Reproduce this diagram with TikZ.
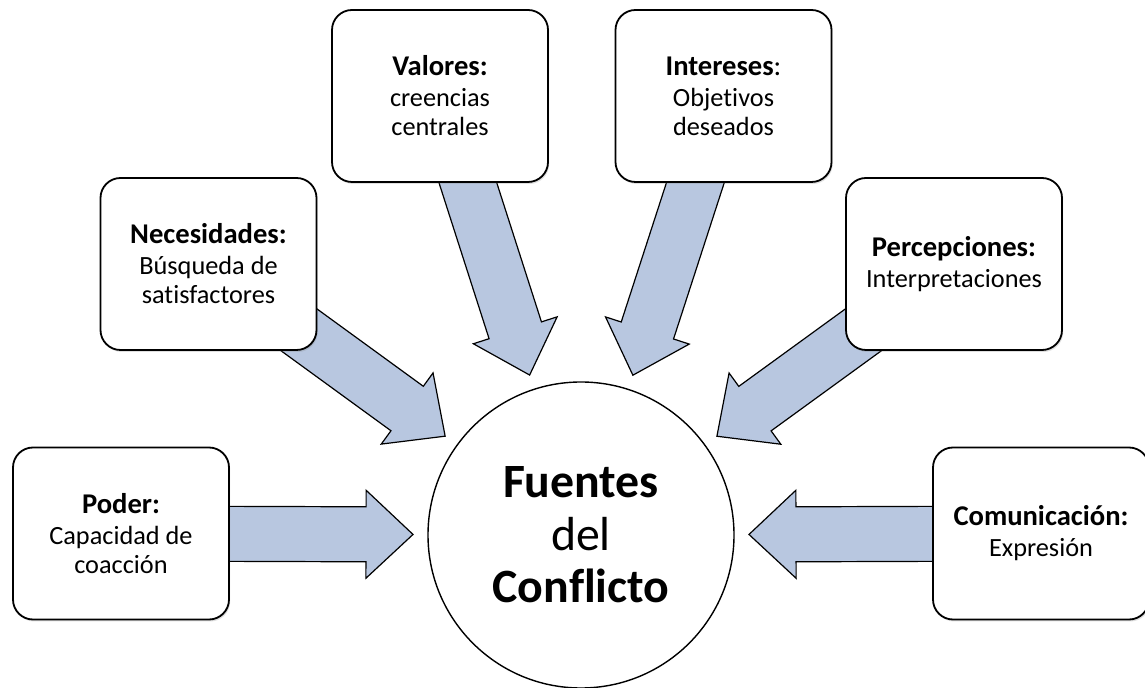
\documentclass[tikz,border=0pt]{standalone}
\usepackage{fontspec}
\setmainfont{Carlito}[Ligatures=NoCommon]
\usetikzlibrary{calc,backgrounds,shadows}
\definecolor{azulflecha}{RGB}{184,199,224}
\tikzset{
	caja/.style={draw=black, line width=0.9pt, fill=white, rounded corners=10pt,
		minimum width=108pt, minimum height=86pt, align=center,
		font=\fontsize{13.15}{14.5}\selectfont,
		drop shadow={opacity=0.25, shadow xshift=0.6pt, shadow yshift=-1pt}},
	centro/.style={draw=black, line width=0.7pt, fill=white, circle, minimum size=153pt,
		align=center, font=\fontsize{23.9}{26.25}\selectfont},
	flechagorda/.style={fill=azulflecha, draw=black, line width=0.6pt, line join=miter}
}
% Titelzeile einer Box
\newcommand{\titulo}[1]{{\fontsize{14.3}{15.5}\selectfont #1}}
% dicke Pfeil von einer Box zum Kreis
\newcommand{\flecha}[1]{%
	\coordinate (punta) at ($(fuentes.center)!84pt!(#1.center)$);
	\coordinate (base) at ($(punta)!23.5pt!(#1.center)$);
	\filldraw[flechagorda] ($(#1.center)!13.75pt!90:(punta)$) -- ($(base)!13.75pt!90:(punta)$)
		-- ($(base)!22pt!90:(punta)$) -- (punta) -- ($(base)!22pt!-90:(punta)$)
		-- ($(base)!13.75pt!-90:(punta)$) -- ($(#1.center)!13.75pt!-90:(punta)$) -- cycle;
}
\begin{document}
\begin{tikzpicture}[x=0.5pt,y=-0.5pt]
		\useasboundingbox (0,0) rectangle (1145,688);
		%%%% Kreis in der Mitte
		\node[centro] (fuentes) at (581,535) {\textbf{Fuentes}\\del\\\textbf{Conflicto}};
		%%%% Boxen
		\node[caja] (poder) at (121,533.5) {\titulo{\textbf{Poder:}}\\[1pt]Capacidad de\\coacción};
		\node[caja] (nec) at (208.5,264) {\titulo{\textbf{Necesidades:}}\\[1pt]Búsqueda de\\satisfactores};
		\node[caja] (val) at (440,96) {\titulo{\textbf{Valores:}}\\[1pt]creencias\\centrales};
		\node[caja] (int) at (723.5,96) {\titulo{\textbf{Intereses}:}\\[1pt]Objetivos\\deseados};
		\node[caja] (perc) at (954,264) {\titulo{\textbf{Percepciones:}}\\[1pt]Interpretaciones};
		\node[caja] (com) at (1041,533.5) {\titulo{\textbf{Comunicación:}}\\[1pt]Expresión};
		%%%% Pfeile
		\begin{scope}[on background layer]
			\foreach \c in {poder,nec,val,int,perc,com} {
				\flecha{\c}
			}
		\end{scope}
\end{tikzpicture}
\end{document}
